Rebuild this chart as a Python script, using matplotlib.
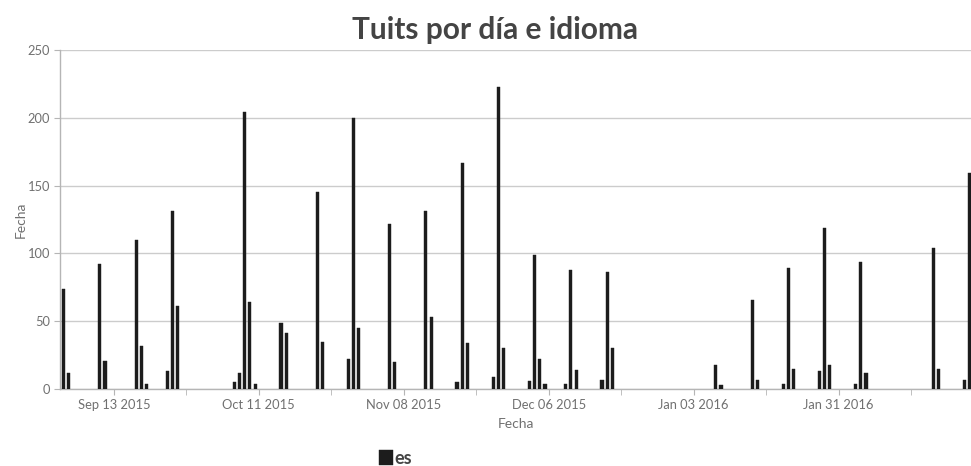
import matplotlib
matplotlib.use("Agg")
import matplotlib.pyplot as plt
import matplotlib.dates as mdates
import numpy as np
import pandas as pd

# ---- data ----
dates = [
    "2015-09-03", "2015-09-04",
    "2015-09-10", "2015-09-11",
    "2015-09-17", "2015-09-18", "2015-09-19",
    "2015-09-23", "2015-09-24", "2015-09-25",
    "2015-10-06", "2015-10-07", "2015-10-08", "2015-10-09", "2015-10-10",
    "2015-10-15", "2015-10-16",
    "2015-10-22", "2015-10-23",
    "2015-10-28", "2015-10-29", "2015-10-30",
    "2015-11-05", "2015-11-06",
    "2015-11-12", "2015-11-13",
    "2015-11-18", "2015-11-19", "2015-11-20",
    "2015-11-25", "2015-11-26", "2015-11-27",
    "2015-12-02", "2015-12-03", "2015-12-04", "2015-12-05",
    "2015-12-09", "2015-12-10", "2015-12-11",
    "2015-12-16", "2015-12-17", "2015-12-18",
    "2016-01-07", "2016-01-08",
    "2016-01-14", "2016-01-15",
    "2016-01-20", "2016-01-21", "2016-01-22",
    "2016-01-27", "2016-01-28", "2016-01-29",
    "2016-02-03", "2016-02-04", "2016-02-05",
    "2016-02-18", "2016-02-19",
    "2016-02-24", "2016-02-25",
]
tweets_es = [
    74, 12,
    92, 21,
    110, 32, 4,
    13, 131, 61,
    5, 12, 204, 64, 4,
    49, 41,
    145, 35,
    22, 200, 45,
    122, 20,
    131, 53,
    5, 167, 34,
    9, 223, 30,
    6, 99, 22, 4,
    4, 88, 14,
    7, 86, 30,
    18, 3,
    66, 7,
    4, 89, 15,
    13, 119, 18,
    4, 94, 12,
    104, 15,
    7, 159,
]
series_name = "es"
y_ticks = [0, 50, 100, 150, 200, 250]
title = "Tuits por día e idioma"
x_label = "Fecha"
y_label = "Fecha"

# ---- plot ----
plt.rcParams["font.family"] = ["Lato", "DejaVu Sans"]
fig = plt.figure(figsize=(9.71, 4.66), dpi=100)
ax = fig.add_axes([60 / 971, 77 / 466, 911 / 971, 339 / 466])

x = pd.to_datetime(dates)
ax.bar(x, tweets_es, width=0.6, align="edge", color="#1c1c1c",
       edgecolor="#1c1c1c", linewidth=0.3, label=series_name, zorder=3)

ax.set_yticks(y_ticks)
ax.set_ylim(0, 250)

major = pd.date_range("2015-09-13", "2016-02-28", freq="28D")
minor = pd.date_range("2015-08-30", "2016-03-13", freq="28D")
ax.set_xticks(major)
ax.set_xticks(minor, minor=True)
ax.xaxis.set_major_formatter(mdates.DateFormatter("%b %d %Y"))
start = pd.Timestamp("2015-09-02") + pd.Timedelta(hours=14.6)
end = pd.Timestamp("2016-02-25") + pd.Timedelta(hours=14.2)
ax.set_xlim(start, end)

ax.grid(axis="y", color="#cccccc", linewidth=1.0, zorder=0)
for s in ["top", "right"]:
    ax.spines[s].set_visible(False)
for s in ["left", "bottom"]:
    ax.spines[s].set_color("#b5b5b5")
    ax.spines[s].set_linewidth(1.0)

ax.tick_params(axis="both", which="both", colors="#b5b5b5", labelcolor="#707070",
               labelsize=9.3)
ax.tick_params(axis="y", length=4, pad=3)
ax.tick_params(axis="x", which="major", length=4, pad=3)
ax.tick_params(axis="x", which="minor", length=4)

ax.set_xlabel(x_label, color="#707070", fontsize=10, labelpad=5)
ax.set_ylabel(y_label, color="#707070", fontsize=10, labelpad=1)
fig.text(495 / 971, 1 - 30 / 466, title, ha="center", va="center",
         fontsize=21.5, fontweight="bold", color="#444444")

leg = fig.legend(loc="center left", bbox_to_anchor=(379 / 971, 8 / 466),
                 frameon=False, handlelength=0.75, handleheight=0.95,
                 handletextpad=0.1, borderpad=0, borderaxespad=0, fontsize=13,
                 labelcolor="#444444")
for t in leg.get_texts():
    t.set_fontweight("bold")

fig.savefig("out.png", dpi=100)
